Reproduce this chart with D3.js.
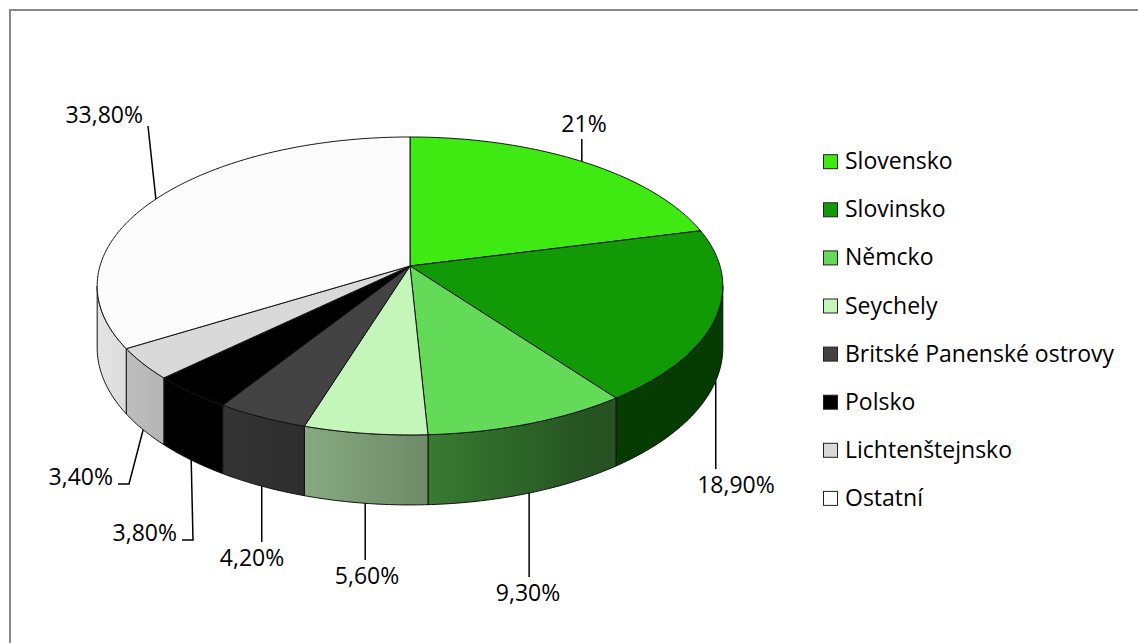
<!DOCTYPE html>
<html>
<head>
<meta charset="utf-8">
<script src="https://cdn.jsdelivr.net/npm/d3@7"></script>
<style>
  body { margin: 0; background: #fff; }
  svg { display: block; }
  text { font-family: "Open Sans", sans-serif; fill: #000; }
</style>
</head>
<body>
<div id="chart"></div>
<script>
const categories = ["Slovensko", "Slovinsko", "Němcko", "Seychely", "Britské Panenské ostrovy", "Polsko", "Lichtenštejnsko", "Ostatní"];
const shares = [21, 18.9, 9.3, 5.6, 4.2, 3.8, 3.4, 33.8];
const valueLabels = ["21%", "18,90%", "9,30%", "5,60%", "4,20%", "3,80%", "3,40%", "33,80%"];
const sliceColors = ["#3fe912", "#119a05", "#63db58", "#c4f6b9", "#434343", "#000000", "#d9d9d9", "#fcfcfc"];

// where the value labels sit (text position, baseline) - layout only
const labelLayout = [
    { x: 584, y: 132, anchor: "middle" },
    { x: 736, y: 493, anchor: "middle" },
    { x: 528, y: 601, anchor: "middle" },
    { x: 367, y: 584, anchor: "middle" },
    { x: 252, y: 566, anchor: "middle" },
    { x: 177, y: 541, anchor: "end" },
    { x: 113, y: 485, anchor: "end" },
    { x: 143, y: 123, anchor: "end" }
];

const width = 1138, height = 643;
const persp = 0.134;      // perspective strength (near side looks bigger)
const depth = 60.6;       // thickness of the pie
const fontSize = 23;

const svg = d3.select("#chart").append("svg")
    .attr("width", width)
    .attr("height", height);

const defs = svg.append("defs");

// chart frame (runs off the right and bottom edge)
svg.append("rect")
    .attr("x", 10).attr("y", 10)
    .attr("width", 1300).attr("height", 800)
    .attr("fill", "#fff")
    .attr("stroke", "#888")
    .attr("stroke-width", 2);

const x = d3.scaleLinear().domain([-1, 1]).range([100, 720]);
const y = d3.scaleLinear().domain([-1, 1]).range([266 - 146.3, 266 + 146.3]);
const color = d3.scaleOrdinal(categories, sliceColors);

// angle is clockwise from 12 o'clock, like d3.pie
const project = (angle, bottom) => {
    const u = Math.sin(angle), v = -Math.cos(angle), w = 1 - persp * v;
    return [x(u / w), y(v / w) + (bottom ? depth / w : 0)];
};

const arcPoints = (a0, a1, bottom) => {
    const n = Math.max(2, Math.ceil((a1 - a0) / 0.01));
    return d3.range(n + 1).map(i => project(a0 + (a1 - a0) * i / n, bottom));
};

const shade = angle => {
    const f = 0.513 + 0.387 * Math.cos(angle - 260 * Math.PI / 180);
    return Math.max(0.38, Math.min(0.92, f));
};

const pie = d3.pie().sort(null).value(d => d)(shares);
const line = d3.line();
const center = [x(0), y(0)];

const visLo = Math.acos(-persp), visHi = 2 * Math.PI - Math.acos(-persp);

// sides
const sides = svg.append("g");
pie.forEach((p, i) => {
    const s0 = Math.max(p.startAngle, visLo), s1 = Math.min(p.endAngle, visHi);
    if (s0 >= s1) return;
    const top = arcPoints(s0, s1, false);
    const bot = arcPoints(s0, s1, true).reverse();

    const base = d3.rgb(color(categories[i]));
    const xa = project(s0, false)[0], xb = project(s1, false)[0];
    const grad = defs.append("linearGradient")
        .attr("id", "side" + i)
        .attr("gradientUnits", "userSpaceOnUse")
        .attr("x1", xa).attr("x2", xb).attr("y1", 0).attr("y2", 0);
    d3.range(9).forEach(j => {
        const a = s0 + (s1 - s0) * j / 8;
        const f = shade(a);
        const px = project(a, false)[0];
        grad.append("stop")
            .attr("offset", (px - xa) / (xb - xa || 1))
            .attr("stop-color", d3.rgb(base.r * f, base.g * f, base.b * f));
    });

    sides.append("path")
        .attr("d", line(top.concat(bot)) + "Z")
        .attr("fill", `url(#side${i})`)
        .attr("stroke", "#111")
        .attr("stroke-width", 1)
        .attr("stroke-linejoin", "round");
});

// top faces
const tops = svg.append("g");
pie.forEach((p, i) => {
    const pts = [center].concat(arcPoints(p.startAngle, p.endAngle, false));
    tops.append("path")
        .attr("d", line(pts) + "Z")
        .attr("fill", color(categories[i]))
        .attr("stroke", "#111")
        .attr("stroke-width", 1)
        .attr("stroke-linejoin", "round");
});

// value labels with leader lines
const labelsG = svg.append("g");
pie.forEach((p, i) => {
    const mid = (p.startAngle + p.endAngle) / 2;
    const front = mid > visLo && mid < visHi;
    const a = project(mid, front);
    const L = labelLayout[i];
    let pts;
    if (L.anchor === "middle") {
        pts = L.y > a[1] ? [a, [a[0], L.y - 24]] : [a, [a[0], L.y + 7]];
    } else if (L.y > a[1]) {
        pts = [a, [L.x + 16, L.y - 1], [L.x + 5, L.y - 1]];
    } else {
        pts = [a, [L.x + 5, L.y + 3]];
    }
    labelsG.append("path")
        .attr("d", line(pts))
        .attr("fill", "none")
        .attr("stroke", "#000")
        .attr("stroke-width", 1.5);
    labelsG.append("text")
        .attr("x", L.x).attr("y", L.y)
        .attr("text-anchor", L.anchor)
        .attr("font-size", fontSize)
        .text(valueLabels[i]);
});

// legend
const legend = svg.append("g").attr("transform", "translate(823, 161.7)");
const rows = legend.selectAll("g").data(categories).join("g")
    .attr("transform", (d, i) => `translate(0, ${i * 48.1})`);
rows.append("rect")
    .attr("x", 0.5).attr("y", -7)
    .attr("width", 14).attr("height", 14)
    .attr("fill", d => color(d))
    .attr("stroke", "#222")
    .attr("stroke-width", 1);
rows.append("text")
    .attr("x", 22).attr("y", 7.5)
    .attr("font-size", fontSize)
    .text(d => d);
</script>
</body>
</html>
